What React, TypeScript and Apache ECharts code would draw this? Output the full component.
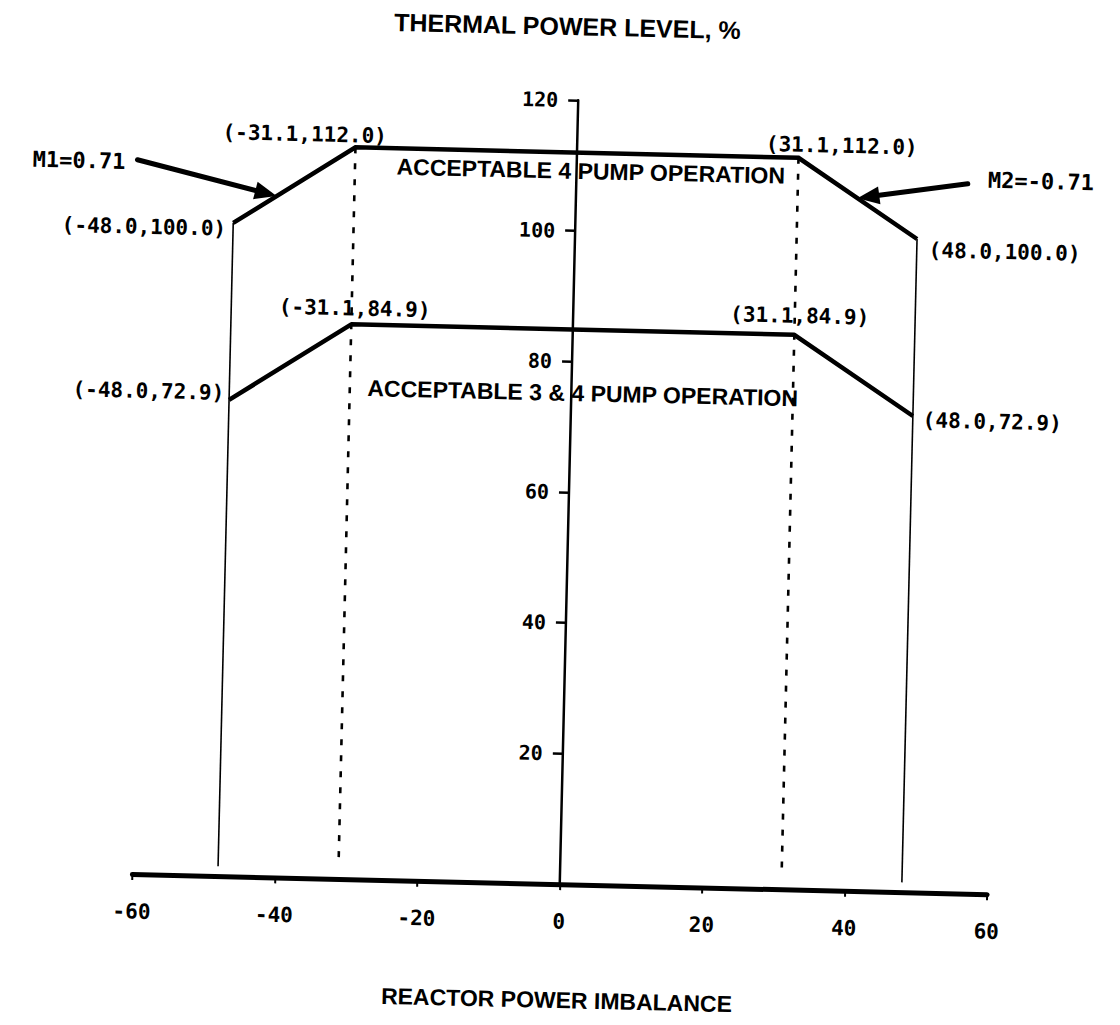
import React, { useEffect, useRef } from "react";
import * as echarts from "echarts";

// ---- data ----
const breakX = [-48.0, -31.1, 31.1, 48.0];
const fourPumpY = [100.0, 112.0, 112.0, 100.0];
const threeFourPumpY = [72.9, 84.9, 84.9, 72.9];
const slopeNames = ["M1", "M2"];
const slopeValues = [0.71, -0.71];
const xTickValues = [-60, -40, -20, 0, 20, 40, 60];
const yTickValues = [20, 40, 60, 80, 100, 120];
const regionLabels = ["ACCEPTABLE 4 PUMP OPERATION", "ACCEPTABLE 3 & 4 PUMP OPERATION"];
const xAxisTitle = "REACTOR POWER IMBALANCE";
const yAxisTitle = "THERMAL POWER LEVEL, %";

// ---- layout / style (not data) ----
const MONO = "'DejaVu Sans Mono', 'Liberation Mono', monospace";
const SANS = "'Liberation Sans', Arial, 'DejaVu Sans', sans-serif";
const GRID = { left: 141, right: 124, top: 100, bottom: 141 };
const outerLabelPlace = [
  { align: "right", dx: -7, dy: 6 },
  { align: "center", dx: -51, dy: -12 },
  { align: "center", dx: 43, dy: -13 },
  { align: "left", dx: 12, dy: 11 },
];
const innerLabelPlace = [
  { align: "right", dx: -5, dy: -7 },
  { align: "center", dx: 3, dy: -16 },
  { align: "center", dx: 5, dy: -19 },
  { align: "left", dx: 10, dy: 4 },
];
const regionAnchor = [
  [2.0, 109.2],
  [1.6, 75.2],
];
const arrowTipX = [-42.0, 39.5];
const arrowTail = [
  [-140, -33],
  [110, -17],
];

const fmt = (v: number) => v.toFixed(1);

export default function App() {
  const ref = useRef<HTMLDivElement>(null);
  useEffect(() => {
    document.documentElement.style.overflow = "hidden";
    document.body.style.margin = "0";
    document.body.style.overflow = "hidden";
    const el = ref.current as HTMLDivElement;
    const chart = echarts.init(el, null, { renderer: "svg" });
    const pts = (ys: number[]) => breakX.map((x, i) => [x, ys[i]]);
    const black = "#000";
    const thinLine = (data: number[][], width: number, type: any) => ({
      type: "line",
      data,
      symbol: "none",
      silent: true,
      lineStyle: { color: black, width, type },
    });
    const xMin = xTickValues[0];
    const xMax = xTickValues[xTickValues.length - 1];
    const gridWidth = 1120 - GRID.left - GRID.right;
    // shift the y axis from the grid's left edge onto x = 0
    const yAxisShift = -(gridWidth * (0 - xMin)) / (xMax - xMin);
    const option: any = {
      animation: false,
      backgroundColor: "#fff",
      grid: { ...GRID, containLabel: false, outerBoundsMode: "none" },
      xAxis: {
        type: "value",
        min: xMin,
        max: xMax,
        interval: xTickValues[1] - xTickValues[0],
        splitLine: { show: false },
        axisLine: { onZero: false, lineStyle: { color: black, width: 5 } },
        axisTick: { show: true, length: 6, lineStyle: { color: black, width: 2 } },
        axisLabel: {
          margin: 27,
          color: black,
          fontFamily: MONO,
          fontWeight: "bold",
          fontSize: 21,
          formatter: (v: number) => String(v),
        },
      },
      yAxis: {
        type: "value",
        min: 0,
        max: yTickValues[yTickValues.length - 1],
        interval: yTickValues[1] - yTickValues[0],
        offset: yAxisShift,
        splitLine: { show: false },
        axisLine: { onZero: false, lineStyle: { color: black, width: 2.5 } },
        axisTick: { show: true, length: 10, lineStyle: { color: black, width: 2.5 } },
        axisLabel: {
          margin: 20,
          color: black,
          fontFamily: MONO,
          fontWeight: "bold",
          fontSize: 20,
          showMinLabel: false,
          formatter: (v: number) => (yTickValues.indexOf(v) >= 0 ? String(v) : ""),
        },
      },
      series: [
        {
          type: "line",
          name: "4 pump",
          data: pts(fourPumpY),
          symbol: "none",
          silent: true,
          lineStyle: { color: black, width: 4.5, join: "miter" },
        },
        {
          type: "line",
          name: "3 & 4 pump",
          data: pts(threeFourPumpY),
          symbol: "none",
          silent: true,
          lineStyle: { color: black, width: 4.5 },
        },
        thinLine([[breakX[0], 1.5], [breakX[0], fourPumpY[0]]], 1.6, "solid"),
        thinLine([[breakX[3], 1.5], [breakX[3], fourPumpY[3]]], 1.6, "solid"),
        thinLine([[breakX[1], fourPumpY[1]], [breakX[1], 2]], 2.6, [6, 10]),
        thinLine([[breakX[2], fourPumpY[2]], [breakX[2], 2]], 2.6, [6, 10]),
      ],
    };
    chart.setOption(option);

    const px = (x: number, y: number) =>
      chart.convertToPixel({ xAxisIndex: 0, yAxisIndex: 0 }, [x, y]) as number[];
    const txt = (text: string, x: number, y: number, align: string, size: number, family: string) => ({
      type: "text",
      x,
      y,
      silent: true,
      style: {
        text,
        fill: black,
        fontSize: size,
        fontFamily: family,
        fontWeight: "bold",
        align,
        textAlign: align,
        verticalAlign: "middle",
        textVerticalAlign: "middle",
      },
    });
    const g: any[] = [];
    // coordinate labels at corner points
    [
      [fourPumpY, outerLabelPlace],
      [threeFourPumpY, innerLabelPlace],
    ].forEach(([ys, place]: any) => {
      breakX.forEach((x, i) => {
        const p = px(x, ys[i]);
        const pl = place[i];
        g.push(txt(`(${fmt(x)},${fmt(ys[i])})`, p[0] + pl.dx, p[1] + pl.dy, pl.align, 21, MONO));
      });
    });
    // region labels
    regionLabels.forEach((t, i) => {
      const p = px(regionAnchor[i][0], regionAnchor[i][1]);
      g.push(txt(t, p[0], p[1], "center", 23, SANS));
    });
    // slope arrows
    slopeValues.forEach((m, i) => {
      const x = arrowTipX[i];
      const baseIdx = i === 0 ? 0 : 3;
      const y = fourPumpY[baseIdx] + m * (x - breakX[baseIdx]);
      const tip = px(x, y);
      const tail = [tip[0] + arrowTail[i][0], tip[1] + arrowTail[i][1]];
      const dx = tip[0] - tail[0];
      const dy = tip[1] - tail[1];
      const len = Math.hypot(dx, dy);
      const ux = dx / len;
      const uy = dy / len;
      const nx = -uy;
      const ny = ux;
      const hl = 22;
      const hw = 9;
      const bx = tip[0] - ux * hl;
      const by = tip[1] - uy * hl;
      g.push({
        type: "line",
        silent: true,
        shape: { x1: tail[0], y1: tail[1], x2: bx + ux * 4, y2: by + uy * 4 },
        style: { stroke: black, lineWidth: 5, lineCap: "round" },
      });
      g.push({
        type: "polygon",
        silent: true,
        shape: { points: [tip, [bx + nx * hw, by + ny * hw], [bx - nx * hw, by - ny * hw]] },
        style: { fill: black },
      });
      const label = `${slopeNames[i]}=${m.toFixed(2)}`;
      if (i === 0) g.push(txt(label, tail[0] - 12, tail[1] + 2, "right", 22, MONO));
      else g.push(txt(label, tail[0] + 20, tail[1] - 4, "left", 22, MONO));
    });
    // axis titles
    g.push(txt(yAxisTitle, 556, 26, "center", 25, SANS));
    g.push(txt(xAxisTitle, 568, 1000, "center", 23, SANS));
    chart.setOption({ graphic: g });
    return () => chart.dispose();
  }, []);
  return (
    <div
      ref={ref}
      style={{
        width: 1120,
        height: 1025,
        transform: "rotate(1.35deg)",
        transformOrigin: "50% 50%",
        background: "#fff",
      }}
    />
  );
}
